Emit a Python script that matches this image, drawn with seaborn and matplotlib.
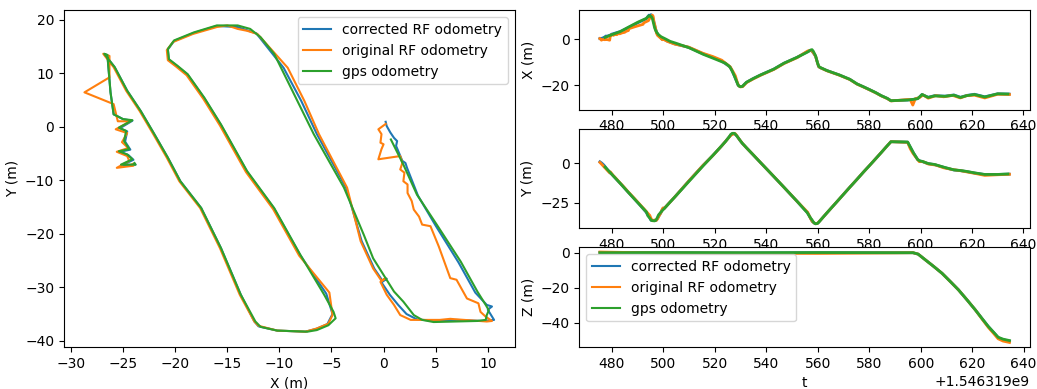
import matplotlib
matplotlib.use("Agg")
import matplotlib.pyplot as plt
import seaborn as sns
import numpy as np

T0 = 1546319000.0

# corrected RF odometry (t, x, y)
t_corr = [475.3, 476.0, 476.8, 477.3, 477.6, 478.0, 479.5, 479.8, 480.3, 483.3, 486.4, 490.3, 493.3,
          494.1, 494.4, 494.6, 495.2, 495.8, 496.4, 496.8, 497.3, 497.7, 498.3, 499.0, 499.6, 499.9,
          500.2, 501.5, 504.4, 509.8, 515.4, 519.2, 522.7, 526.0, 526.8, 527.6, 528.4, 529.1, 529.8,
          530.7, 531.4, 532.3, 534.9, 537.8, 542.9, 546.9, 551.9, 556.0, 557.3, 557.9, 558.6, 559.2,
          559.9, 560.4, 560.9, 563.6, 568.4, 572.5, 575.3, 577.7, 580.2, 582.6, 584.7, 587.1, 588.5,
          595.0, 597.3, 598.9, 599.8, 600.6, 603.0, 605.5, 609.5, 613.0, 615.5, 618.0, 621.0, 625.0,
          630.0, 634.5]
x_corr = [0.2, 0.3, 0.65, 1.0, 1.3, 1.2, 1.8, 2.1, 2.25, 3.3, 5.0, 7.2, 8.8,
          9.9, 10.4, 10.0, 10.6, 9.5, 7.0, 5.0, 3.2, 2.2, 1.4, 0.6, -0.2, 0.3,
          -0.1, -0.9, -2.1, -3.6, -6.4, -7.9, -9.6, -12.2, -14.0, -16.0, -18.2, -20.1, -20.7,
          -20.6, -19.8, -18.8, -17.2, -15.6, -13.1, -10.5, -8.0, -5.5, -4.9, -5.4, -6.5, -7.5,
          -10.2, -12.0, -12.4, -13.7, -15.6, -17.5, -19.5, -20.7, -22.0, -23.3, -24.6, -25.8, -26.8,
          -26.5, -26.2, -25.9, -25.0, -24.1, -25.3, -24.6, -24.8, -24.3, -25.3, -24.5, -24.0, -25.1,
          -23.8, -23.9]
y_corr = [0.9, 0.1, -1.1, -2.1, -2.7, -3.6, -6.4, -6.8, -7.7, -12.9, -18.5, -25.4, -31.0,
          -33.3, -33.6, -34.2, -36.1, -36.3, -36.1, -36.3, -36.0, -35.0, -33.3, -31.4, -29.1, -28.4,
          -28.8, -26.5, -21.4, -11.4, -1.4, 4.8, 11.0, 17.4, 18.6, 18.8, 17.5, 16.0, 14.4,
          12.5, 11.3, 9.7, 5.3, 0.3, -8.4, -15.3, -24.0, -31.2, -35.0, -36.9, -37.8, -38.3,
          -38.1, -37.3, -36.4, -31.4, -22.7, -15.2, -10.2, -5.8, -1.4, 2.9, 6.7, 11.1, 13.6,
          13.3, 6.4, 2.3, 1.4, 1.1, -0.3, -0.9, -2.8, -4.3, -4.7, -5.3, -6.2, -7.2,
          -7.1, -6.9]

# original RF odometry (t, x, y)
t_orig = [475.3, 475.9, 476.4, 477.3, 477.5, 478.0, 479.1, 479.4, 480.0, 480.6, 481.0, 481.9, 482.2,
          483.1, 484.0, 484.9, 485.6, 486.4, 486.6, 488.8, 492.1, 492.3, 494.2, 494.7, 495.1, 495.4,
          495.7, 496.0, 496.4, 496.6, 496.8, 497.3, 497.7, 498.3, 499.0, 499.6, 499.9, 500.2, 501.5,
          504.4, 509.8, 515.4, 519.2, 522.7, 526.0, 526.5, 527.0, 527.5, 528.0, 528.6, 529.2, 529.9,
          530.8, 531.5, 532.4, 535.0, 537.9, 543.0, 547.0, 552.0, 556.1, 557.3, 557.9, 558.6, 559.2,
          559.9, 560.4, 560.9, 563.6, 568.4, 572.5, 575.3, 577.7, 580.2, 582.6, 584.7, 587.1, 588.5,
          595.0, 596.0, 597.0, 598.0, 599.5, 601.0, 603.0, 606.0, 609.0, 612.5, 615.5, 618.0, 621.0,
          625.0, 630.0, 634.6]
x_orig = [0.2, -0.5, -0.2, -0.3, 0.0, -0.2, -0.5, 1.6, 1.8, 1.6, 2.0, 1.9, 2.3,
          2.3, 2.7, 2.9, 3.4, 3.7, 4.5, 5.3, 6.4, 7.0, 8.0, 9.1, 9.3, 9.8,
          10.4, 9.9, 7.0, 6.4, 5.4, 2.6, 1.6, 1.0, 0.3, -0.3, 0.2, -0.2, -1.0,
          -2.2, -3.5, -6.2, -7.6, -9.2, -12.1, -13.1, -14.0, -15.0, -16.0, -18.3, -20.2, -20.8,
          -20.7, -19.9, -18.9, -17.3, -15.7, -13.2, -10.6, -8.1, -5.2, -4.9, -5.3, -6.4, -7.5,
          -10.2, -12.0, -12.4, -13.8, -15.7, -17.6, -19.6, -20.8, -22.1, -23.4, -24.7, -25.9, -26.9,
          -26.3, -26.3, -28.7, -25.9, -25.5, -24.3, -25.7, -24.6, -25.1, -24.5, -25.6, -24.6, -24.4,
          -25.6, -24.0, -24.1]
y_orig = [0.5, -0.5, -1.4, -3.0, -3.3, -4.2, -6.1, -5.5, -6.8, -8.0, -8.6, -10.2, -10.8,
          -12.4, -13.9, -15.5, -16.8, -18.3, -18.6, -22.4, -28.3, -28.6, -32.1, -33.0, -34.6, -35.5,
          -36.3, -36.4, -36.0, -35.9, -36.1, -36.1, -35.2, -33.3, -31.4, -29.0, -28.3, -28.8, -26.5,
          -21.4, -11.4, -1.4, 4.8, 11.0, 17.3, 17.9, 18.25, 18.9, 18.6, 17.3, 15.8, 14.3,
          12.4, 11.2, 9.6, 5.2, 0.2, -8.5, -15.4, -24.1, -31.0, -35.2, -36.8, -37.7, -38.3,
          -38.1, -37.2, -36.4, -31.4, -22.7, -15.2, -10.2, -5.8, -1.4, 2.9, 6.7, 11.1, 13.6,
          13.2, 9.2, 6.4, 4.2, 1.0, 1.0, -0.5, -1.2, -2.9, -4.0, -4.7, -5.5, -6.4,
          -7.7, -7.3, -7.0]

# gps odometry (t, x, y)
t_gps = [477.3, 480.0, 483.2, 486.3, 490.2, 493.4, 494.0, 494.5, 494.9, 495.3, 495.7, 496.6, 497.0,
         497.4, 498.1, 499.1, 500.9, 502.6, 505.1, 510.0, 515.6, 519.9, 524.1, 525.6, 526.2, 526.8,
         527.6, 528.4, 529.1, 529.8, 530.7, 531.4, 532.3, 534.9, 537.8, 542.9, 546.9, 551.9, 556.0,
         557.2, 557.8, 558.3, 558.8, 559.2, 559.9, 560.4, 560.9, 563.6, 568.4, 572.5, 575.3, 577.7,
         580.2, 582.6, 584.7, 587.1, 588.5, 595.0, 597.3, 598.9, 599.8, 600.6, 603.0, 605.5, 609.5,
         613.0, 615.5, 618.0, 621.0, 625.0, 630.0, 634.0]
x_gps = [0.7, 1.9, 3.2, 5.1, 7.4, 9.0, 9.8, 10.1, 9.9, 9.8, 9.0, 4.8, 3.7,
         2.9, 1.9, 1.0, 0.0, -1.0, -1.9, -3.8, -6.7, -8.6, -10.5, -11.8, -12.8, -14.0,
         -16.0, -18.2, -20.1, -20.7, -20.6, -19.8, -18.8, -17.2, -15.6, -13.1, -10.5, -8.0, -5.7,
         -4.8, -4.6, -5.3, -6.4, -7.3, -10.2, -11.8, -12.3, -13.7, -15.6, -17.5, -19.5, -20.7,
         -22.0, -23.3, -24.6, -25.8, -26.8, -26.5, -26.2, -25.9, -25.0, -24.1, -25.4, -24.7, -24.9,
         -24.4, -25.4, -24.6, -24.1, -25.2, -23.8, -23.9]
y_gps = [-2.4, -7.1, -12.7, -18.3, -25.2, -30.8, -33.3, -34.3, -35.2, -36.1, -36.3, -36.5, -36.1,
         -35.2, -32.7, -30.8, -27.7, -24.6, -20.2, -11.4, -1.4, 6.1, 13.6, 16.7, 18.25, 18.9,
         18.9, 17.6, 16.1, 14.5, 12.6, 11.4, 9.8, 5.4, 0.4, -8.3, -15.2, -23.9, -31.4,
         -34.6, -35.8, -37.1, -38.0, -38.3, -38.1, -37.4, -36.4, -31.4, -22.7, -15.2, -10.2, -5.8,
         -1.4, 2.9, 6.7, 11.1, 13.6, 13.4, 6.4, 2.3, 1.4, 1.2, -0.2, -0.8, -2.7,
         -4.2, -4.6, -5.2, -6.1, -7.1, -7.1, -6.8]

# height over time
t_z = [475.3, 500.0, 530.0, 560.0, 590.0, 597.0, 599.0, 601.9, 605.0, 608.3, 611.5, 614.7, 618.0,
       621.2, 624.0, 626.3, 628.5, 630.1, 632.0, 634.5]
z_corr = [0.2, 0.0, -0.1, 0.0, 0.0, 0.0, -0.8, -4.2, -7.8, -11.8, -16.5, -21.3, -27.0,
          -32.7, -38.0, -42.3, -45.9, -48.6, -49.8, -50.6]
z_orig = [0.4, -0.2, -0.3, -0.4, -0.1, 0.0, -0.8, -4.2, -7.8, -11.8, -16.5, -21.3, -27.0,
          -32.7, -38.3, -42.8, -46.5, -49.3, -50.6, -51.4]
z_gps = [0.0, 0.1, 0.0, 0.1, 0.0, 0.0, -0.8, -4.2, -7.8, -11.8, -16.5, -21.3, -27.0,
         -32.7, -38.0, -42.3, -45.8, -48.4, -49.5, -50.3]

labels = ["corrected RF odometry", "original RF odometry", "gps odometry"]
colors = sns.color_palette("tab10", 3)

series = [
    (t_corr, x_corr, y_corr, z_corr),
    (t_orig, x_orig, y_orig, z_orig),
    (t_gps, x_gps, y_gps, z_gps),
]

fig = plt.figure(figsize=(10.37, 3.89), dpi=100)
gs = fig.add_gridspec(3, 2, left=0.0617, right=0.9932, top=0.974, bottom=0.108,
                      wspace=0.144, hspace=0.193)
ax_xy = fig.add_subplot(gs[:, 0])
ax_x = fig.add_subplot(gs[0, 1])
ax_y = fig.add_subplot(gs[1, 1])
ax_z = fig.add_subplot(gs[2, 1])

# trajectory
for (t, x, y, z), lab, c in zip(series, labels, colors):
    sns.lineplot(x=x, y=y, sort=False, estimator=None, color=c, label=lab, ax=ax_xy)
ax_xy.set_xlabel("X (m)")
ax_xy.set_ylabel("Y (m)")

# coordinates over time
for (t, x, y, z), lab, c in zip(series, labels, colors):
    ts = T0 + np.array(t)
    sns.lineplot(x=ts, y=x, color=c, lw=2, ax=ax_x)
    sns.lineplot(x=ts, y=y, color=c, lw=2, ax=ax_y)
    sns.lineplot(x=T0 + np.array(t_z), y=z, color=c, lw=2, label=lab, ax=ax_z)

ax_x.set_ylabel("X (m)")
ax_y.set_ylabel("Y (m)")
ax_z.set_ylabel("Z (m)")
ax_z.set_xlabel("t")
for a in (ax_x, ax_y):
    a.set_xlabel("")
    if a.get_legend():
        a.get_legend().remove()

ax_xy.legend(loc="upper right")
leg = ax_z.legend(loc="upper left")
for h in leg.get_lines():
    h.set_linewidth(1.5)

fig.savefig("out.png", dpi=100)
